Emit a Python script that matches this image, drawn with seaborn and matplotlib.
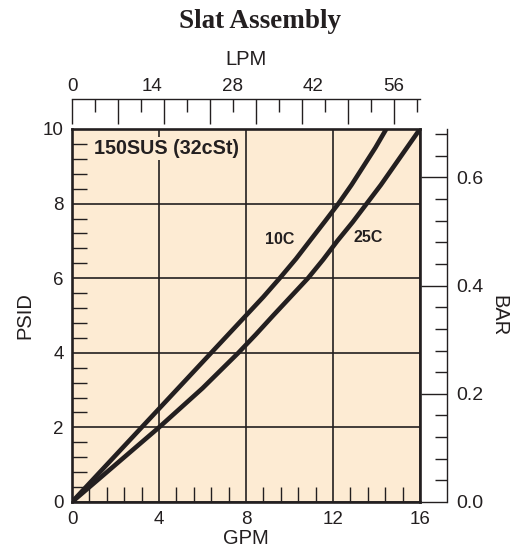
import matplotlib
matplotlib.use("Agg")
import matplotlib.pyplot as plt
import pandas as pd
import seaborn as sns
from matplotlib.ticker import FixedLocator, MultipleLocator

# curve data (GPM vs PSID)
gpm_10c = [0, 2, 3.2, 4, 5.2, 6.4, 8, 8.8, 9.55, 10.3, 11, 11.65, 12.25, 12.85, 13.4, 13.95, 14.45]
psid_10c = [0, 1.25, 2.0, 2.5, 3.25, 4.0, 5.0, 5.5, 6.0, 6.52, 7.05, 7.54, 8.0, 8.5, 9.0, 9.5, 10.0]
gpm_25c = [0, 2, 4, 6, 7.65, 8.45, 9.25, 10.05, 10.85, 11.55, 12.2, 12.9, 13.55, 14.2, 14.8, 15.4, 16.0]
psid_25c = [0, 1.0, 2.0, 3.05, 4.0, 4.49, 5.0, 5.5, 6.0, 6.5, 7.0, 7.5, 8.0, 8.5, 9.0, 9.5, 10.0]

gpm_ticks = [0, 4, 8, 12, 16]
psid_ticks = [0, 2, 4, 6, 8, 10]
lpm_labels = [0, 14, 28, 42, 56]
bar_ticks = [0.0, 0.2, 0.4, 0.6]

GPM_TO_LPM = 3.78541
PSI_TO_BAR = 0.0689476

sns.set_theme(style="white")
plt.rcParams["font.family"] = ["Liberation Sans", "DejaVu Sans"]

ink = "#231f20"
fill = "#fdebd3"

fig = plt.figure(figsize=(5.11, 5.5), dpi=100)
ax = fig.add_axes([72 / 511, 48 / 550, 348 / 511, 373 / 550])
ax.set_facecolor(fill)

df = pd.concat([
    pd.DataFrame({"GPM": gpm_10c, "PSID": psid_10c, "temp": "10C"}),
    pd.DataFrame({"GPM": gpm_25c, "PSID": psid_25c, "temp": "25C"}),
])
sns.lineplot(data=df, x="GPM", y="PSID", hue="temp",
             palette={"10C": ink, "25C": ink}, estimator=None,
             linewidth=3.3, legend=False, ax=ax, zorder=3)

ax.set_xlim(0, 16)
ax.set_ylim(0, 10)
ax.set_xticks(gpm_ticks)
ax.set_yticks(psid_ticks)
ax.xaxis.set_minor_locator(MultipleLocator(0.8))
ax.yaxis.set_minor_locator(MultipleLocator(0.4))
ax.grid(True, which="major", color=ink, linewidth=1.2)
ax.tick_params(which="major", length=0, labelsize=13.5, labelcolor=ink)
ax.tick_params(axis="x", which="major", pad=6.5)
ax.tick_params(axis="y", which="major", pad=6)
ax.tick_params(which="minor", direction="in", length=11, width=1.0,
               color=ink, left=True, bottom=True, top=False, right=False)
for s in ax.spines.values():
    s.set_linewidth(1.9)
    s.set_color(ink)
ax.set_xlabel("GPM", fontsize=14.5, color=ink, labelpad=1)
ax.set_ylabel("PSID", fontsize=14.5, color=ink, labelpad=6)

# top LPM scale: tick marks
top_loc = 1 + 30 / 373
lpm_ax = ax.secondary_xaxis(top_loc, functions=(lambda g: g * GPM_TO_LPM,
                                                lambda l: l / GPM_TO_LPM))
lpm_ax.xaxis.set_major_locator(MultipleLocator(8))
lpm_ax.xaxis.set_minor_locator(MultipleLocator(4))
lpm_ax.tick_params(which="both", direction="in", color=ink, width=1.0,
                   labeltop=False, labelbottom=False)
lpm_ax.tick_params(which="major", length=18)
lpm_ax.tick_params(which="minor", length=9)
for s in lpm_ax.spines.values():
    s.set_linewidth(1.0)
    s.set_color(ink)

# top LPM scale: labels
lpm_lab = ax.secondary_xaxis(top_loc, functions=(lambda g: g * GPM_TO_LPM,
                                                 lambda l: l / GPM_TO_LPM))
lpm_lab.xaxis.set_major_locator(FixedLocator(lpm_labels))
lpm_lab.xaxis.set_minor_locator(FixedLocator([]))
lpm_lab.tick_params(which="major", length=0, pad=3, labelsize=13.5, labelcolor=ink)
for s in lpm_lab.spines.values():
    s.set_visible(False)
lpm_lab.set_xlabel("LPM", fontsize=14.5, color=ink, labelpad=9)

# right BAR scale
bar_ax = ax.secondary_yaxis(1 + 27 / 348, functions=(lambda p: p * PSI_TO_BAR,
                                                     lambda b: b / PSI_TO_BAR))
bar_ax.yaxis.set_major_locator(FixedLocator(bar_ticks))
bar_ax.yaxis.set_minor_locator(MultipleLocator(0.04))
bar_ax.yaxis.set_major_formatter(lambda v, pos: f"{v:.1f}")
bar_ax.tick_params(which="both", direction="in", color=ink, width=1.0,
                   labelsize=14, labelcolor=ink, pad=7)
bar_ax.tick_params(which="major", length=19)
bar_ax.tick_params(which="minor", length=9)
for s in bar_ax.spines.values():
    s.set_linewidth(1.0)
    s.set_color(ink)
bar_ax.set_ylabel("BAR", fontsize=14.5, color=ink, rotation=270,
                  va="bottom", labelpad=4)

# annotations
ax.text(1.0, 9.47, "150SUS (32cSt)", fontsize=14.2, fontweight="bold",
        color=ink, ha="left", va="center", zorder=4,
        bbox=dict(facecolor=fill, edgecolor="none", pad=1.5))
ax.text(9.56, 7.03, "10C", fontsize=11.5, fontweight="bold", color=ink,
        ha="center", va="center", zorder=4)
ax.text(13.6, 7.1, "25C", fontsize=11.5, fontweight="bold", color=ink,
        ha="center", va="center", zorder=4)

fig.text(0.509, 1 - 21 / 550, "Slat Assembly", fontsize=19.5, fontweight="bold",
         family=["Liberation Serif", "DejaVu Serif"], color=ink,
         ha="center", va="center")

fig.savefig("out.png", dpi=100)
